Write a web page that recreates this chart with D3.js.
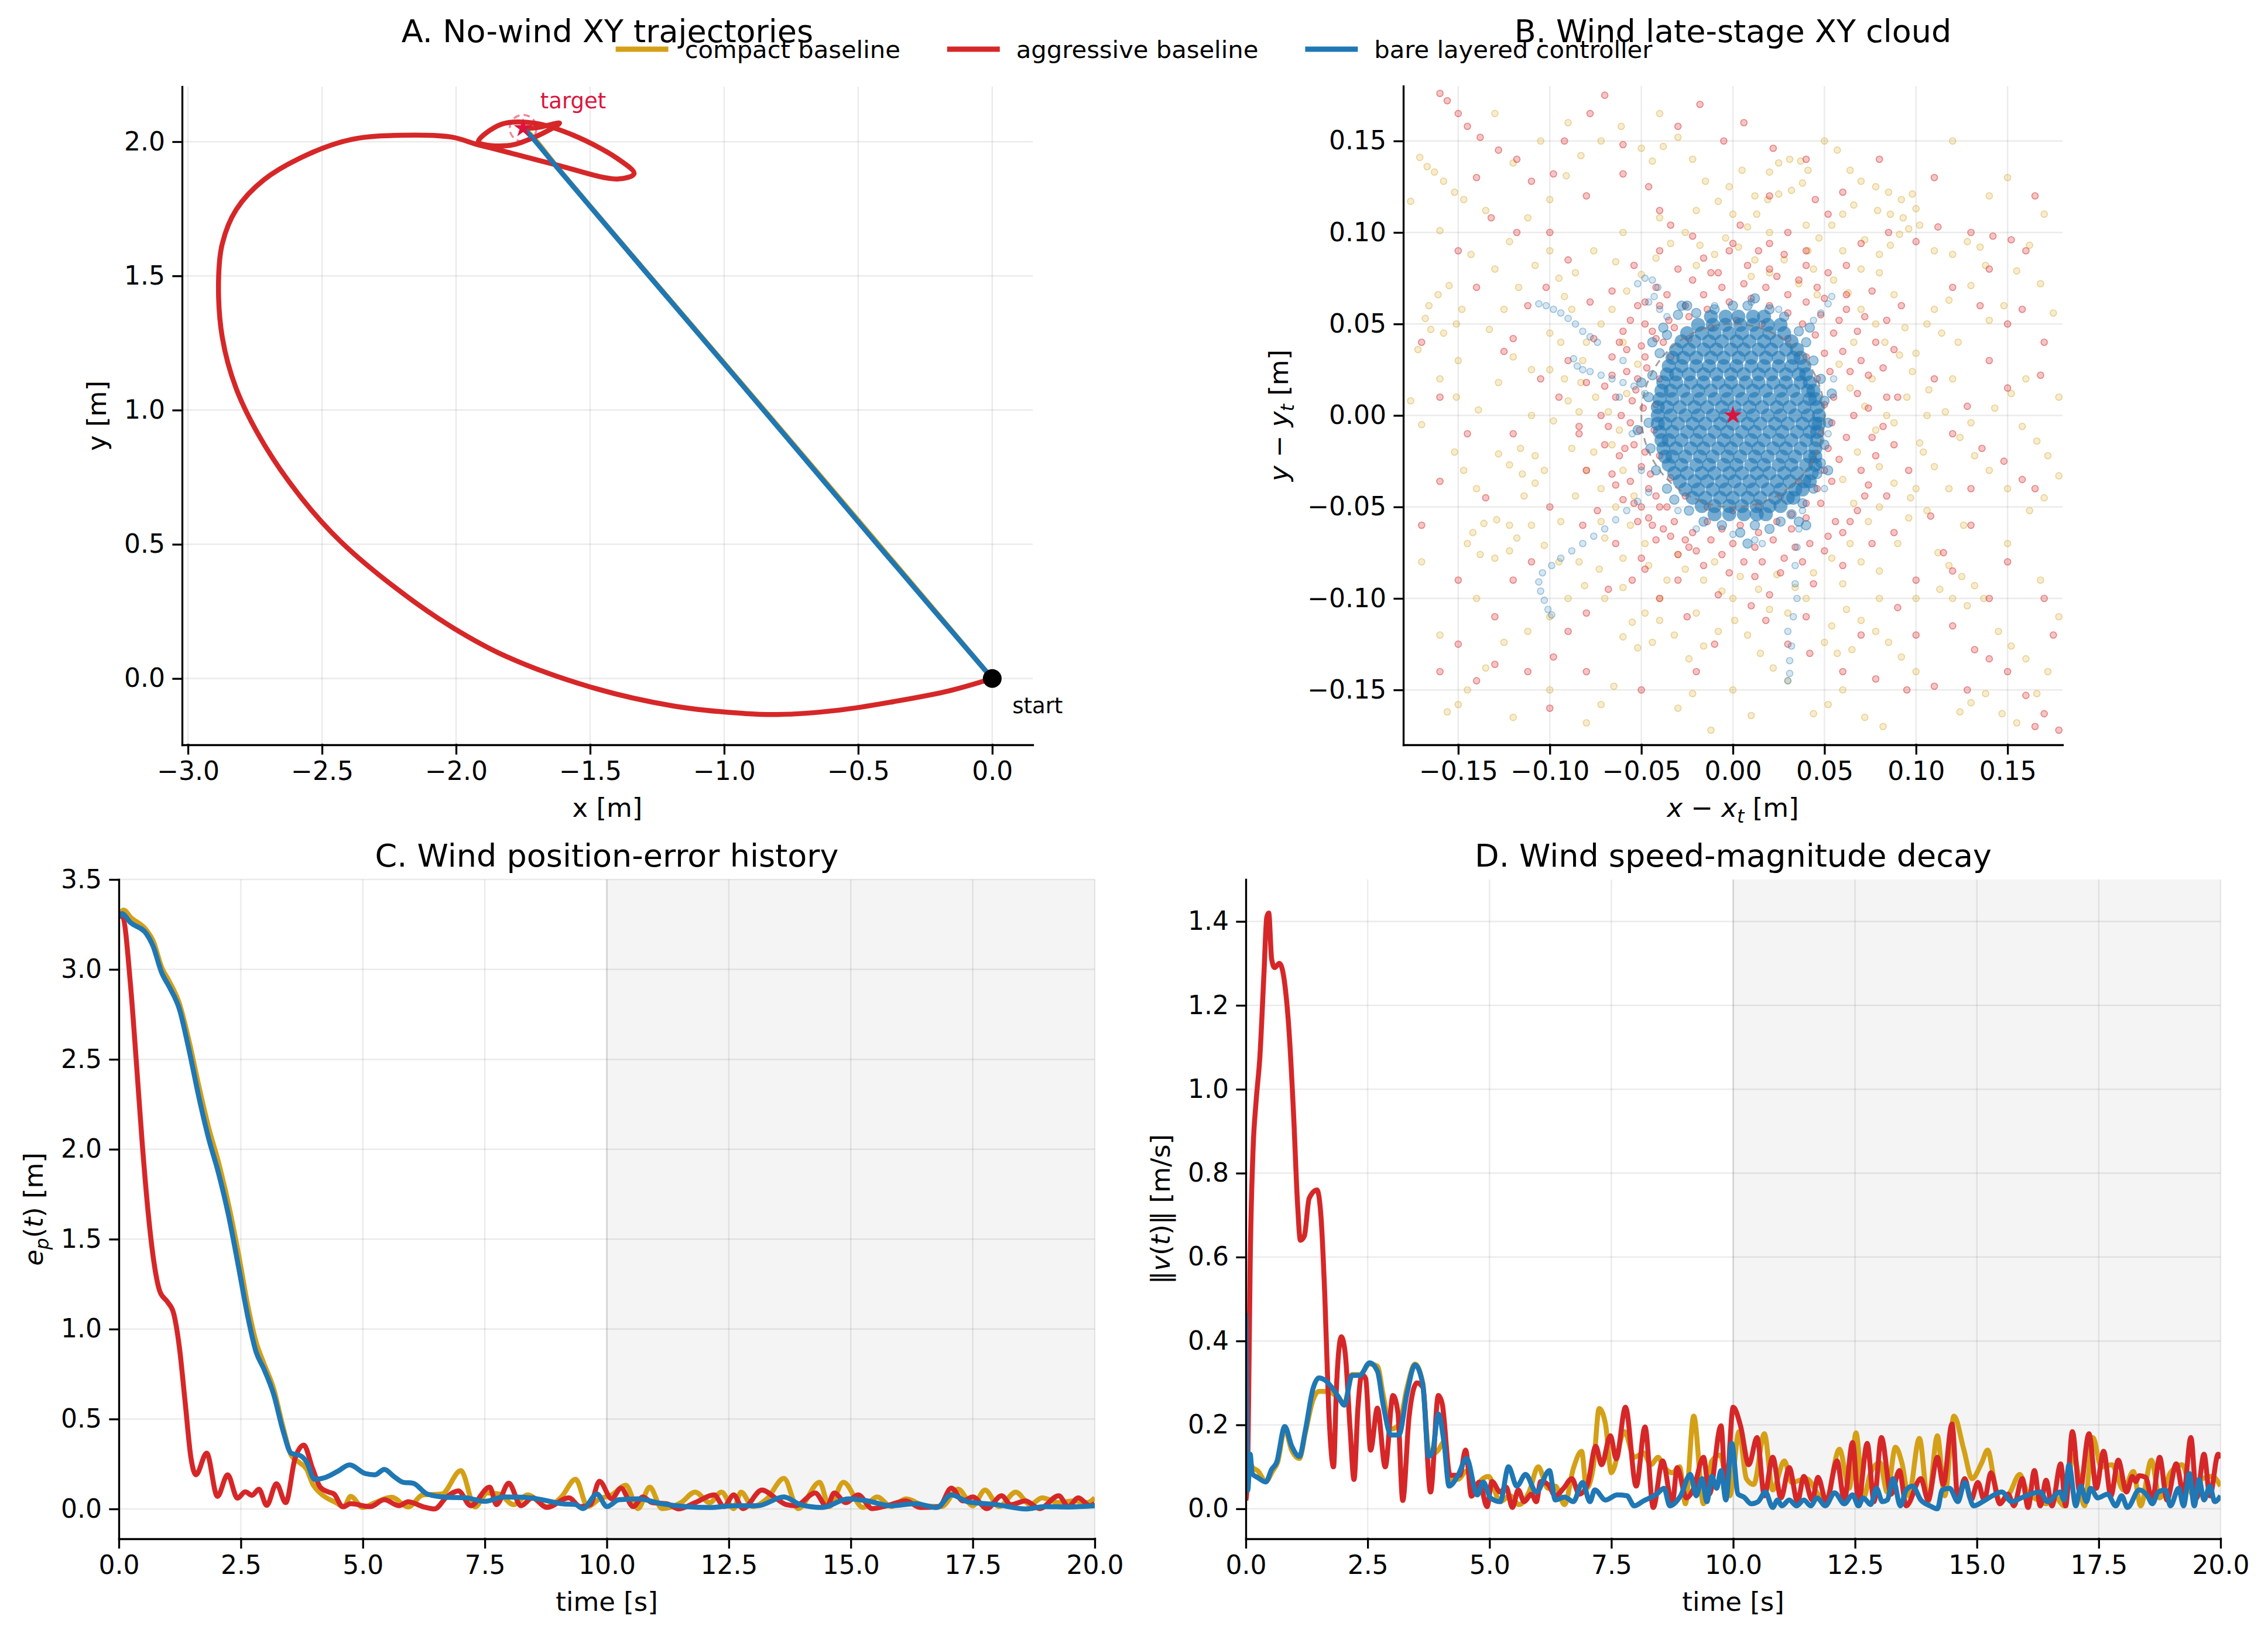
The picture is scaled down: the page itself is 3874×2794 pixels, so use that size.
<!DOCTYPE html>
<html>
<head>
<meta charset="utf-8">
<script src="https://cdn.jsdelivr.net/npm/d3@7"></script>
<style>
  html, body { margin: 0; padding: 0; background: #fff; }
</style>
</head>
<body>
<svg id="chart" width="3874" height="2794"></svg>
<script>
// ---------- data ----------
const seriesNames = ["compact baseline", "aggressive baseline", "bare layered controller"];
const target = [-1.75, 2.05];

// A: no-wind XY paths [x, y] in metres
const trajCompact = [[0, 0], [-0.414, 0.488], [-0.864, 1.016], [-1.304, 1.530], [-1.614, 1.895], [-1.714, 2.018], [-1.745, 2.048]];
const trajAggressive = [[0, 0], [-0.161, -0.046], [-0.367, -0.086], [-0.573, -0.118], [-0.800, -0.134], [-0.985, -0.126],
  [-1.192, -0.102], [-1.501, -0.031], [-1.810, 0.081], [-2.016, 0.192], [-2.222, 0.335], [-2.429, 0.509], [-2.573, 0.668],
  [-2.717, 0.874], [-2.820, 1.080], [-2.872, 1.271], [-2.886, 1.477], [-2.872, 1.620], [-2.820, 1.747], [-2.717, 1.858],
  [-2.552, 1.953], [-2.387, 2.009], [-2.202, 2.024], [-2.016, 2.017], [-1.923, 1.990], [-1.851, 1.972], [-1.624, 1.913],
  [-1.398, 1.861], [-1.336, 1.881], [-1.398, 1.937], [-1.562, 2.024], [-1.707, 2.069], [-1.831, 2.065], [-1.917, 1.999],
  [-1.810, 1.985], [-1.707, 2.017], [-1.614, 2.069], [-1.700, 2.052], [-1.750, 2.050]];
const trajLayered = [[0, 0], [-0.420, 0.490], [-0.870, 1.020], [-1.310, 1.535], [-1.620, 1.900], [-1.720, 2.020], [-1.750, 2.050]];

// B: late-stage offsets from target [dx, dy]
const cloudCompact = [
  [-0.171,0.141],[-0.167,0.136],[-0.163,0.133],[-0.158,0.128],[-0.152,0.122],[-0.147,0.118],[-0.160,0.101],[-0.143,0.088],
  [-0.176,0.117],[-0.155,0.071],[-0.161,0.066],[-0.166,0.060],[-0.168,0.053],[-0.165,0.047],[-0.158,0.045],[-0.151,0.050],
  [-0.148,0.058],[-0.172,0.036],[-0.160,0.020],[-0.151,0.010],[-0.139,0.003],[-0.128,0.018],[-0.120,0.032],[-0.133,0.047],
  [-0.125,0.058],[-0.117,0.070],[-0.108,0.082],[-0.122,0.095],[-0.112,0.108],[-0.100,0.118],[-0.091,0.131],[-0.083,0.142],
  [-0.072,0.150],[-0.061,0.158],[-0.050,0.146],[-0.044,0.139],[-0.038,0.147],[-0.030,0.152],[-0.022,0.140],[-0.015,0.128],
  [-0.008,0.117],[-0.002,0.125],[0.005,0.134],[0.012,0.120],[0.020,0.133],[0.025,0.138],[0.031,0.140],[0.037,0.139],
  [0.041,0.134],[0.038,0.127],[0.032,0.123],[0.025,0.121],[0.019,0.118],[0.013,0.110],[0.008,0.103],[0.050,0.150],
  [0.057,0.145],[0.064,0.134],[0.070,0.128],[0.078,0.125],[0.085,0.122],[0.092,0.118],[0.098,0.121],[0.100,0.113],
  [0.093,0.108],[0.086,0.110],[0.079,0.112],[0.066,0.115],[0.060,0.110],[0.054,0.104],[0.047,0.097],[0.041,0.090],
  [0.072,0.096],[0.080,0.088],[0.086,0.093],[0.091,0.099],[0.096,0.102],[0.102,0.104],[0.110,0.090],[0.120,0.088],
  [0.128,0.095],[0.135,0.092],[0.138,0.082],[0.130,0.071],[0.118,0.063],[0.110,0.058],[0.106,0.050],[0.114,0.045],
  [0.123,0.040],[0.140,0.052],[0.148,0.060],[0.155,0.079],[0.162,0.093],[0.168,0.072],[0.175,0.056],[0.160,0.020],
  [0.152,0.012],[0.143,0.004],[0.158,-0.006],[0.166,-0.014],[0.172,-0.022],[0.178,-0.033],[0.170,-0.045],[0.162,-0.052],
  [0.150,-0.040],[0.140,-0.030],[0.132,-0.022],[0.124,-0.012],[0.116,0.002],[0.107,0.014],[0.098,0.024],[0.091,0.033],
  [0.083,0.040],[0.095,0.010],[0.088,-0.004],[0.102,-0.015],[0.110,-0.028],[0.118,-0.040],[0.106,-0.052],[0.097,-0.045],
  [0.088,-0.037],[0.080,-0.028],[0.112,-0.075],[0.118,-0.082],[0.125,-0.088],[0.132,-0.093],[0.137,-0.100],[0.128,-0.104],
  [0.120,-0.100],[0.113,-0.095],[0.145,-0.118],[0.152,-0.126],[0.160,-0.133],[0.138,-0.152],[0.130,-0.157],[0.124,-0.162],
  [0.147,-0.163],[0.155,-0.168],[0.166,-0.152],[0.172,-0.140],[0.100,-0.140],[0.092,-0.132],[0.085,-0.124],[0.078,-0.118],
  [0.070,-0.112],[0.062,-0.106],[0.054,-0.115],[0.050,-0.124],[0.057,-0.130],[0.065,-0.128],[0.060,-0.150],[0.052,-0.158],
  [0.044,-0.163],[0.072,-0.165],[0.082,-0.170],[0.030,-0.145],[0.022,-0.138],[0.015,-0.130],[0.008,-0.120],[0.001,-0.112],
  [-0.008,-0.118],[-0.016,-0.126],[-0.024,-0.133],[-0.032,-0.120],[-0.040,-0.112],[-0.048,-0.108],[-0.055,-0.113],[-0.060,-0.121],
  [-0.052,-0.127],[-0.044,-0.124],[-0.030,-0.160],[-0.022,-0.152],[-0.065,-0.148],[-0.072,-0.158],[-0.080,-0.168],[-0.012,-0.172],
  [0.010,-0.164],[-0.142,-0.064],[-0.136,-0.059],[-0.129,-0.057],[-0.122,-0.060],[-0.118,-0.067],[-0.122,-0.074],[-0.130,-0.078],
  [-0.138,-0.076],[-0.145,-0.070],[-0.150,-0.158],[-0.156,-0.162],[-0.145,-0.150],[-0.135,-0.138],[-0.125,-0.124],[-0.112,-0.118],
  [-0.100,-0.110],[-0.090,-0.100],[-0.081,-0.093],[-0.073,-0.084],[-0.095,-0.080],[-0.103,-0.071],[-0.110,-0.060],[-0.128,-0.021],
  [-0.122,-0.027],[-0.115,-0.032],[-0.108,-0.037],[-0.103,-0.030],[-0.108,-0.022],[-0.116,-0.018],[-0.140,-0.040],[-0.147,-0.030],
  [-0.152,-0.020],[-0.170,-0.005],[-0.176,0.008],[-0.098,-0.003],[-0.090,0.008],[-0.083,0.018],[-0.075,0.010],[-0.068,0.002],
  [-0.062,-0.008],[-0.088,-0.018],[-0.080,-0.030],[-0.072,-0.040],[-0.064,-0.050],[-0.056,-0.060],[-0.048,-0.070],[-0.060,-0.078],
  [-0.070,-0.067],[-0.080,0.040],[-0.072,0.050],[-0.066,0.058],[-0.058,0.068],[-0.050,0.077],[-0.042,0.086],[-0.034,0.094],
  [-0.026,0.100],[-0.018,0.093],[-0.010,0.088],[-0.004,0.097],[0.003,0.092],[0.012,0.085],[0.020,0.078],[0.028,0.085],
  [0.036,0.072],[0.046,0.066],[0.055,0.074],[0.063,0.067],[0.070,0.058],[0.078,0.050],[0.066,0.040],[0.058,0.028],
  [0.064,0.015],[0.072,0.005],[0.078,-0.008],[0.068,-0.020],[0.060,-0.035],[0.066,-0.048],[0.074,-0.058],[0.064,-0.070],
  [0.054,-0.078],[0.044,-0.086],[0.034,-0.094],[0.024,-0.087],[0.014,-0.095],[0.004,-0.088],[-0.006,-0.096],[-0.016,-0.090],
  [-0.026,-0.084],[-0.036,-0.090],[-0.046,-0.082],[-0.054,-0.044],[-0.060,-0.030],[-0.066,-0.016],[-0.058,0.012],[-0.052,0.028],
  [-0.060,0.040],[-0.120,0.138],[-0.105,0.150],[-0.135,0.112],[-0.092,0.065],[-0.100,0.045],[-0.110,0.025]
];
const cloudCompactInner = [
  [-0.100,0.090],[-0.095,0.075],[-0.088,0.058],[-0.094,0.040],[-0.100,0.025],[-0.086,-0.044],[-0.094,-0.058],[-0.084,-0.080],
  [-0.070,-0.100],[-0.060,-0.094],[-0.040,-0.100],[-0.020,-0.108],[0.000,-0.100],[0.020,-0.106],[0.040,-0.100],[0.060,-0.092],
  [0.080,-0.085],[0.090,-0.070],[0.096,-0.056],[0.100,-0.040],[0.104,-0.020],[0.106,0.000],[0.100,0.034],[0.094,0.048],
  [0.088,0.066],[0.080,0.078],[0.060,0.090],[0.040,0.104],[0.020,0.100],[0.000,0.110],[-0.020,0.112],[-0.040,0.108],
  [-0.060,0.100],[-0.076,0.090],[-0.086,0.078],[-0.092,0.020],[-0.084,0.002],[-0.076,-0.020],[-0.072,-0.058],[-0.082,0.030],
  [0.070,0.080],[0.076,0.020],[0.084,0.000],[0.080,-0.050],[0.070,-0.080],[0.030,-0.108],[-0.010,-0.080],[-0.030,-0.076],
  [0.010,0.076],[-0.020,0.082],[0.044,0.080],[-0.064,0.084],[0.120,0.020],[0.130,-0.004],[0.126,-0.060],[0.100,-0.100],
  [0.080,-0.100],[-0.110,0.000],[-0.114,-0.044],[-0.130,0.080],[-0.150,0.030],[-0.140,-0.100],[-0.160,-0.120],[-0.170,-0.080],
  [0.150,0.130],[0.170,0.110],[0.178,0.010],[0.150,-0.070],[0.168,-0.090],[-0.090,0.160],[-0.130,0.165],[0.120,0.150],
  [0.140,0.120],[-0.040,0.165],[0.000,-0.150],[-0.100,-0.150],[-0.120,-0.165],[0.178,-0.110]
];
const cloudAggressive = [
  [-0.160,0.176],[-0.156,0.172],[-0.150,0.165],[-0.145,0.158],[-0.138,0.152],[-0.128,0.145],[-0.118,0.140],[-0.110,0.128],
  [-0.098,0.132],[-0.092,0.150],[-0.078,0.165],[-0.070,0.175],[-0.060,0.148],[-0.046,0.125],[-0.040,0.112],[-0.030,0.158],
  [-0.018,0.170],[-0.005,0.150],[0.006,0.160],[0.022,0.146],[0.045,0.118],[0.052,0.110],[0.060,0.122],[0.070,0.094],
  [0.085,0.100],[0.100,0.095],[0.112,0.103],[0.130,0.100],[0.142,0.098],[0.152,0.096],[0.160,0.090],[0.158,0.058],
  [0.150,0.050],[0.135,0.060],[0.168,0.022],[0.150,0.015],[0.140,0.030],[0.128,0.005],[0.120,-0.010],[0.136,-0.018],
  [0.148,-0.025],[0.158,-0.035],[0.165,-0.040],[0.130,-0.040],[0.108,-0.055],[0.115,-0.075],[0.100,-0.090],[0.090,-0.105],
  [0.120,-0.115],[0.132,-0.128],[0.140,-0.133],[0.150,-0.140],[0.160,-0.153],[0.170,-0.163],[0.178,-0.172],[0.165,-0.170],
  [0.128,-0.150],[0.110,-0.148],[0.095,-0.150],[0.078,-0.144],[0.060,-0.140],[0.042,-0.130],[0.030,-0.125],[0.018,-0.112],
  [-0.010,-0.125],[-0.025,-0.110],[-0.040,-0.100],[-0.055,-0.090],[-0.068,-0.095],[-0.080,-0.108],[-0.090,-0.118],[-0.098,-0.132],
  [-0.112,-0.140],[-0.130,-0.136],[-0.140,-0.145],[-0.160,-0.140],[-0.150,-0.125],[-0.120,-0.090],[-0.110,-0.080],[-0.135,-0.045],
  [-0.160,-0.036],[-0.145,-0.010],[-0.125,0.035],[-0.120,0.042],[-0.112,0.060],[-0.102,0.070],[-0.090,0.085],[-0.118,0.100],
  [-0.132,0.108],[-0.105,0.020],[-0.095,0.010],
  [0.040,0.062],[0.048,0.055],[0.055,0.045],[0.060,0.035],[0.064,0.024],[0.068,0.012],[0.066,0.000],[0.062,-0.012],
  [0.058,-0.024],[0.054,-0.036],[0.048,-0.048],[0.040,-0.056],[0.032,-0.062],[0.022,-0.068],[0.012,-0.072],[0.000,-0.070],
  [-0.012,-0.068],[-0.022,-0.064],[-0.032,-0.058],[-0.040,-0.050],[-0.046,-0.040],[-0.050,-0.028],[-0.054,-0.016],[-0.056,-0.004],
  [-0.055,0.008],[-0.052,0.020],[-0.048,0.032],[-0.042,0.042],[-0.035,0.052],[-0.026,0.060],[-0.016,0.066],[-0.006,0.070],
  [0.006,0.072],[0.018,0.070],[0.030,0.066],
  [0.052,0.078],[0.062,0.066],[0.072,0.054],[0.078,0.040],[0.082,0.026],[0.084,0.010],[0.082,-0.006],[0.078,-0.022],
  [0.074,-0.038],[0.068,-0.052],[0.060,-0.064],[0.050,-0.074],[0.038,-0.080],[0.026,-0.086],[0.012,-0.088],[-0.002,-0.086],
  [-0.016,-0.082],[-0.030,-0.076],[-0.042,-0.068],[-0.052,-0.058],[-0.060,-0.046],[-0.066,-0.032],[-0.070,-0.016],[-0.072,0.000],
  [-0.070,0.016],[-0.066,0.032],[-0.060,0.046],[-0.052,0.060],[-0.042,0.070],[-0.030,0.080],[-0.016,0.086],[-0.002,0.090],
  [0.014,0.090],[0.028,0.088],[0.040,0.082],
  [0.030,0.042],[0.040,0.032],[0.046,0.020],[0.050,0.006],[0.048,-0.010],[0.044,-0.024],[0.036,-0.036],[0.026,-0.044],
  [0.014,-0.050],[0.000,-0.052],[-0.014,-0.050],[-0.026,-0.044],[-0.034,-0.034],[-0.040,-0.022],[-0.043,-0.008],[-0.042,0.006],
  [-0.040,0.020],[-0.034,0.032],[-0.024,0.042],[-0.012,0.048],[0.002,0.052],[0.016,0.050],
  [0.058,0.052],[0.070,0.030],[0.074,0.004],[0.070,-0.030],[0.056,-0.058],[0.034,-0.072],[0.006,-0.080],[-0.020,-0.074],
  [-0.046,-0.056],[-0.062,-0.022],[-0.064,0.010],[-0.058,0.036],[-0.040,0.060],[-0.012,0.078],[0.020,0.080],[0.046,0.070],
  [0.092,0.060],[0.096,-0.030],[0.088,-0.064],[-0.082,-0.060],[-0.090,0.030],[-0.084,-0.010],[-0.078,0.062],[0.004,0.104],
  [0.030,0.100],[-0.034,0.104],[0.010,-0.104],[-0.050,-0.078]
];
const cloudAggressiveHalo = [
  [-0.048,0.050],[-0.044,0.046],[-0.050,0.038],[-0.047,0.026],[-0.053,0.014],[-0.049,0.004],[-0.051,-0.008],[-0.048,-0.020],
  [-0.045,-0.032],[-0.042,-0.044],[-0.036,-0.050],[-0.058,0.024],[-0.061,0.000],[-0.059,-0.018],[-0.056,-0.036],[-0.050,-0.050],
  [-0.044,-0.060],[-0.034,-0.066],[-0.024,-0.072],[-0.014,-0.058],[-0.006,-0.062],[0.004,-0.060],[0.014,-0.064],[0.024,-0.058],
  [0.032,-0.054],[0.040,-0.048],[0.046,-0.040],[0.050,-0.030],[0.052,-0.018],[0.054,-0.004],[0.055,0.010],[0.053,0.024],
  [0.050,0.034],[0.045,0.044],[0.038,0.050],[0.030,0.056],[0.020,0.060],[0.010,0.064],[-0.002,0.062],[-0.014,0.058],
  [-0.024,0.054],[-0.032,0.048],[-0.038,0.040],
  [0.062,0.058],[0.068,0.046],[0.074,0.022],[0.076,-0.012],[0.072,-0.044],[0.064,-0.058],[0.052,-0.066],[0.042,-0.070],
  [0.028,-0.078],[0.016,-0.080],[-0.006,-0.076],[-0.026,-0.068],[-0.038,-0.062],[-0.054,-0.048],[-0.064,-0.038],[-0.068,-0.006],
  [-0.066,0.022],[-0.062,0.040],[-0.056,0.052],[-0.048,0.062],[-0.036,0.066],[-0.022,0.074],[-0.008,0.078],[0.008,0.082],
  [0.024,0.076],[0.036,0.074],[0.050,0.064],
  [0.088,0.036],[0.090,0.010],[0.088,-0.016],[0.084,-0.044],[0.076,-0.070],[0.060,-0.082],[0.044,-0.092],[0.020,-0.098],
  [-0.008,-0.098],[-0.030,-0.090],[-0.048,-0.084],[-0.064,-0.070],[-0.074,-0.052],[-0.080,-0.030],[-0.084,-0.006],[-0.080,0.018],
  [-0.076,0.042],[-0.066,0.068],[-0.054,0.082],[-0.040,0.090],[-0.022,0.098],[0.000,0.094],[0.020,0.094],[0.040,0.090],
  [0.062,0.082],[0.076,0.068],[0.084,0.052],
  [-0.150,0.090],[-0.140,0.070],[-0.100,0.100],[-0.080,0.120],[-0.060,0.132],[0.020,0.120],[0.040,0.140],[0.080,0.140],
  [0.110,0.130],[0.120,0.070],[0.140,0.080],[0.170,0.040],[0.130,-0.060],[0.150,-0.080],[0.170,-0.100],[0.140,-0.100],
  [0.100,-0.120],[0.070,-0.120],[0.040,-0.110],[-0.020,-0.140],[-0.050,-0.150],[-0.080,-0.140],[-0.100,-0.160],[-0.130,-0.110],
  [-0.150,-0.090],[-0.170,-0.060],[-0.160,0.010],[-0.170,0.040],[-0.140,0.130],[0.165,0.120],[0.175,-0.120],[-0.100,-0.050],
  [-0.120,-0.010],[0.110,0.020],[0.120,-0.085]
];
// dense core of the layered controller, one row of x offsets per y offset
const cloudLayeredCoreRows = [
  [0.054, [-0.012, -0.004, 0.003, 0.011, 0.017]],
  [0.0495, [-0.019, -0.011, -0.004, 0.004, 0.011, 0.019, 0.026]],
  [0.045, [-0.025, -0.017, -0.010, -0.002, 0.005, 0.013, 0.020, 0.028]],
  [0.0405, [-0.028, -0.021, -0.013, -0.006, 0.002, 0.009, 0.017, 0.024, 0.032]],
  [0.036, [-0.031, -0.024, -0.016, -0.009, -0.001, 0.006, 0.014, 0.021, 0.029, 0.035]],
  [0.0315, [-0.033, -0.027, -0.020, -0.012, -0.005, 0.003, 0.010, 0.018, 0.025, 0.033, 0.037]],
  [0.027, [-0.035, -0.028, -0.020, -0.013, -0.005, 0.002, 0.010, 0.017, 0.025, 0.032, 0.039]],
  [0.0225, [-0.036, -0.031, -0.024, -0.016, -0.009, -0.001, 0.006, 0.014, 0.021, 0.029, 0.036, 0.040]],
  [0.018, [-0.038, -0.031, -0.023, -0.016, -0.008, -0.001, 0.007, 0.014, 0.022, 0.029, 0.037, 0.042]],
  [0.0135, [-0.039, -0.034, -0.027, -0.019, -0.012, -0.004, 0.003, 0.011, 0.018, 0.026, 0.033, 0.041, 0.044]],
  [0.009, [-0.040, -0.033, -0.025, -0.018, -0.010, -0.003, 0.005, 0.012, 0.020, 0.027, 0.035, 0.042, 0.045]],
  [0.0045, [-0.041, -0.036, -0.029, -0.021, -0.014, -0.006, 0.001, 0.009, 0.016, 0.024, 0.031, 0.039, 0.046]],
  [0.000, [-0.041, -0.034, -0.026, -0.019, -0.011, -0.004, 0.004, 0.011, 0.019, 0.026, 0.034, 0.041, 0.047]],
  [-0.0045, [-0.041, -0.037, -0.030, -0.022, -0.015, -0.007, 0.000, 0.008, 0.015, 0.023, 0.030, 0.038, 0.045, 0.047]],
  [-0.009, [-0.040, -0.033, -0.025, -0.018, -0.010, -0.003, 0.005, 0.012, 0.020, 0.027, 0.035, 0.042, 0.046]],
  [-0.0135, [-0.039, -0.035, -0.028, -0.020, -0.013, -0.005, 0.002, 0.010, 0.017, 0.025, 0.032, 0.040, 0.046]],
  [-0.018, [-0.038, -0.031, -0.023, -0.016, -0.008, -0.001, 0.007, 0.014, 0.022, 0.029, 0.037, 0.045]],
  [-0.0225, [-0.037, -0.033, -0.026, -0.018, -0.011, -0.003, 0.004, 0.012, 0.019, 0.027, 0.034, 0.042, 0.045]],
  [-0.027, [-0.035, -0.028, -0.020, -0.013, -0.005, 0.002, 0.010, 0.017, 0.025, 0.032, 0.040, 0.045]],
  [-0.0315, [-0.032, -0.025, -0.017, -0.010, -0.002, 0.005, 0.013, 0.020, 0.028, 0.035, 0.043]],
  [-0.036, [-0.029, -0.021, -0.014, -0.006, 0.001, 0.009, 0.016, 0.024, 0.031, 0.039, 0.042]],
  [-0.0405, [-0.026, -0.019, -0.011, -0.004, 0.004, 0.011, 0.019, 0.026, 0.034, 0.038]],
  [-0.045, [-0.022, -0.015, -0.007, 0.000, 0.008, 0.015, 0.023, 0.030, 0.033]],
  [-0.0495, [-0.017, -0.010, -0.002, 0.005, 0.013, 0.020, 0.026]],
  [-0.054, [-0.010, -0.002, 0.006, 0.013, 0.018]]
];
const cloudLayeredFringe = [
  [-0.030,0.055],[-0.025,0.060],[-0.020,0.056],[0.008,0.060],[0.012,0.064],[0.020,0.058],[0.028,0.054],[0.036,0.046],
  [0.040,0.040],[0.044,0.030],[0.048,0.020],[0.050,0.008],[0.052,-0.004],[0.050,-0.016],[0.048,-0.026],[0.046,-0.032],
  [0.044,-0.040],[0.038,-0.048],[0.032,-0.054],[0.026,-0.058],[0.012,-0.060],[0.004,-0.064],[-0.006,-0.060],[-0.016,-0.058],
  [-0.024,-0.052],[-0.032,-0.046],[-0.036,-0.040],[-0.042,-0.030],[-0.045,-0.018],[-0.046,-0.004],[-0.046,0.010],[-0.044,0.022],
  [-0.040,0.034],[-0.036,0.044],[-0.044,0.040],[-0.050,0.018],[-0.052,-0.008],[0.054,0.012],[0.052,-0.030],[0.000,0.060],
  [-0.010,0.058],[0.036,-0.058],[0.040,-0.060],[0.008,-0.070],[-0.028,0.060],[-0.038,0.048],[0.042,0.048],[0.020,-0.062]
];
const cloudLayeredTrail = [
  [-0.106,0.061],[-0.102,0.060],[-0.098,0.058],[-0.094,0.056],[-0.090,0.053],[-0.086,0.050],[-0.082,0.046],[-0.078,0.043],
  [-0.074,0.040],[-0.052,0.072],[-0.048,0.075],[-0.044,0.074],[-0.041,0.070],[-0.043,0.065],[-0.046,0.062],[-0.040,0.058],
  [-0.036,0.054],[-0.087,0.031],[-0.085,0.027],[-0.082,0.025],[-0.078,0.024],[-0.072,0.022],[-0.066,0.020],[-0.060,0.018],
  [-0.054,0.016],[-0.048,0.012],[-0.046,-0.042],[-0.052,-0.047],[-0.058,-0.052],[-0.064,-0.057],[-0.070,-0.062],[-0.076,-0.066],
  [-0.082,-0.070],[-0.088,-0.074],[-0.094,-0.078],[-0.099,-0.082],[-0.104,-0.086],[-0.106,-0.091],[-0.105,-0.096],[-0.103,-0.101],
  [-0.101,-0.106],[-0.099,-0.109],[0.036,-0.062],[0.035,-0.072],[0.034,-0.082],[0.034,-0.092],[0.035,-0.100],[0.033,-0.110],
  [0.030,-0.118],[0.032,-0.126],[0.031,-0.134],[0.031,-0.141],[0.030,-0.145],[0.044,0.052],[0.048,0.056],[0.052,0.061],
  [0.054,0.065],[-0.060,0.030],[-0.062,0.010],[-0.055,-0.010],[-0.050,-0.030],[0.055,0.020],[0.052,-0.010],[0.050,-0.040],
  [0.010,0.062],[-0.010,0.060],[0.000,-0.065],[0.012,-0.068],[-0.020,-0.062],[0.025,0.058],[-0.030,-0.052],[0.038,-0.052],
  [0.016,-0.070],[0.046,-0.028],[0.048,-0.030]
];

// C: wind position error [t s, e m]
const errCompact = [[0.00,3.30],[0.10,3.33],[0.24,3.29],[0.56,3.22],[0.70,3.16],[0.88,3.01],[1.04,2.93],[1.24,2.81],[1.44,2.60],
  [1.64,2.35],[1.84,2.12],[2.04,1.93],[2.25,1.69],[2.45,1.42],[2.65,1.12],[2.81,0.93],[2.97,0.81],[3.17,0.67],[3.37,0.45],
  [3.53,0.30],[3.69,0.26],[3.85,0.22],[3.97,0.14],[4.15,0.083],[4.45,0.035],[4.61,0.012],[4.75,0.07],[5.0,0.008],[5.25,0.035],
  [5.59,0.065],[5.93,0.011],[6.23,0.078],[6.62,0.083],[7.01,0.213],[7.3,0.011],[7.55,0.089],[7.79,0.083],[8.09,0.024],[8.38,0.078],
  [8.77,0.013],[9.07,0.067],[9.36,0.165],[9.61,0.013],[9.85,0.056],[10.1,0.078],[10.39,0.132],[10.64,0.002],[10.88,0.121],
  [11.13,0.002],[11.52,0.035],[11.81,0.094],[12.11,0.035],[12.35,0.094],[12.6,0.002],[12.75,0.094],[12.99,0.013],[13.28,0.056],
  [13.63,0.17],[13.92,0.002],[14.36,0.148],[14.56,0.013],[14.85,0.148],[15.25,0.008],[15.54,0.067],[15.83,0.013],[16.13,0.056],
  [16.52,0.018],[16.86,0.013],[17.2,0.11],[17.5,0.018],[17.75,0.105],[18.04,0.013],[18.38,0.094],[18.68,0.024],[18.92,0.062],
  [19.26,0.035],[19.56,0.045],[19.85,0.035],[20.0,0.062]];
const errAggressive = [[0.00,3.30],[0.08,3.29],[0.24,2.91],[0.36,2.48],[0.48,2.03],[0.60,1.65],[0.72,1.37],[0.84,1.21],[1.00,1.15],
  [1.12,1.09],[1.24,0.90],[1.36,0.59],[1.48,0.28],[1.58,0.19],[1.80,0.31],[2.02,0.07],[2.23,0.19],[2.43,0.06],[2.59,0.095],
  [2.73,0.076],[2.87,0.11],[3.03,0.02],[3.23,0.14],[3.42,0.035],[3.61,0.28],[3.79,0.355],[3.97,0.225],[4.13,0.12],[4.29,0.095],
  [4.41,0.083],[4.59,0.012],[4.75,0.029],[5.15,0.013],[5.44,0.051],[5.74,0.018],[5.93,0.04],[6.23,0.013],[6.47,0.0],[6.72,0.067],
  [6.96,0.1],[7.21,0.018],[7.6,0.121],[7.74,0.024],[7.99,0.143],[8.24,0.018],[8.48,0.062],[8.77,0.008],[9.22,0.062],[9.46,0.013],
  [9.66,0.024],[9.85,0.154],[10.1,0.056],[10.29,0.116],[10.54,0.013],[10.74,0.067],[10.93,0.035],[11.23,0.029],[11.47,0.0],
  [11.81,0.035],[12.2,0.078],[12.4,0.013],[12.6,0.078],[12.79,0.002],[13.18,0.105],[13.48,0.056],[13.68,0.024],[13.87,0.018],
  [14.27,0.089],[14.51,0.013],[14.66,0.089],[14.9,0.035],[15.15,0.078],[15.44,0.002],[15.74,0.018],[16.13,0.045],[16.42,0.008],
  [16.81,0.013],[17.06,0.116],[17.3,0.045],[17.5,0.067],[17.79,0.002],[18.09,0.073],[18.28,0.024],[18.58,0.045],[18.87,0.002],
  [19.26,0.073],[19.46,0.013],[19.66,0.062],[19.9,0.018],[20.0,0.03]];
const errLayered = [[0.00,3.29],[0.06,3.31],[0.24,3.26],[0.56,3.20],[0.70,3.13],[0.88,2.98],[1.04,2.90],[1.24,2.78],[1.44,2.55],
  [1.64,2.29],[1.84,2.06],[2.04,1.87],[2.25,1.63],[2.45,1.35],[2.65,1.06],[2.81,0.875],[2.97,0.78],[3.17,0.64],[3.37,0.43],
  [3.53,0.31],[3.73,0.295],[3.85,0.26],[4.01,0.165],[4.25,0.177],[4.49,0.21],[4.73,0.245],[5.05,0.197],[5.25,0.19],[5.44,0.22],
  [5.64,0.18],[5.83,0.148],[6.03,0.143],[6.32,0.083],[6.72,0.065],[7.11,0.062],[7.5,0.042],[7.89,0.067],[8.28,0.065],[8.68,0.051],
  [9.07,0.029],[9.36,0.024],[9.51,0.002],[9.8,0.083],[10.0,0.013],[10.25,0.051],[10.64,0.056],[11.13,0.029],[11.62,0.013],
  [12.11,0.008],[12.6,0.018],[13.09,0.018],[13.63,0.067],[13.97,0.024],[14.41,0.008],[14.95,0.056],[15.34,0.045],[15.83,0.018],
  [16.32,0.029],[16.76,0.008],[17.06,0.078],[17.4,0.04],[17.99,0.024],[18.58,0.0],[18.97,0.013],[19.46,0.011],[20.0,0.018]];

// D: wind speed magnitude [t s, |v| m/s]
const speedCompact = [[0.00,0.40],[0.04,0.10],[0.09,0.11],[0.13,0.10],[0.25,0.09],[0.41,0.065],[0.55,0.09],[0.65,0.11],[0.80,0.19],
  [0.94,0.14],[1.10,0.12],[1.22,0.18],[1.38,0.26],[1.50,0.28],[1.62,0.28],[1.78,0.275],[1.90,0.265],[2.02,0.25],[2.18,0.32],
  [2.34,0.32],[2.54,0.345],[2.70,0.34],[2.82,0.27],[2.98,0.19],[3.14,0.20],[3.31,0.29],[3.47,0.345],[3.63,0.30],[3.75,0.14],
  [3.83,0.13],[3.95,0.14],[4.07,0.16],[4.17,0.07],[4.35,0.07],[4.53,0.09],[4.75,0.04],[4.83,0.068],[4.98,0.077],[5.22,0.017],
  [5.42,0.031],[5.61,0.01],[5.81,0.04],[6.0,0.1],[6.2,0.049],[6.35,0.054],[6.54,0.01],[6.72,0.096],[6.89,0.137],[6.99,0.049],
  [7.13,0.1],[7.25,0.239],[7.38,0.202],[7.5,0.086],[7.77,0.184],[7.97,0.123],[8.16,0.133],[8.31,0.105],[8.46,0.123],[8.55,0.105],
  [8.75,0.086],[8.9,0.1],[9.02,0.012],[9.19,0.221],[9.39,0.012],[9.56,0.114],[9.73,0.128],[9.93,0.031],[10.12,0.184],[10.27,0.072],
  [10.42,0.058],[10.64,0.179],[10.81,0.045],[11.05,0.114],[11.2,0.063],[11.5,0.072],[11.74,0.035],[11.89,0.012],[12.18,0.142],
  [12.38,0.049],[12.52,0.181],[12.67,0.026],[12.82,0.086],[13.01,0.11],[13.16,0.04],[13.33,0.147],[13.46,0.11],[13.6,0.031],
  [13.82,0.168],[14.0,0.017],[14.19,0.174],[14.34,0.031],[14.53,0.221],[14.73,0.142],[14.9,0.072],[15.1,0.11],[15.22,0.14],
  [15.37,0.058],[15.47,0.017],[15.66,0.035],[15.88,0.082],[16.03,0.04],[16.25,0.021],[16.42,0.012],[16.59,0.031],[16.79,0.007],
  [16.98,0.128],[17.21,0.007],[17.38,0.17],[17.55,0.1],[17.77,0.105],[18.01,0.045],[18.21,0.089],[18.36,0.007],[18.58,0.116],
  [18.75,0.026],[18.97,0.086],[19.21,0.105],[19.44,0.031],[19.63,0.072],[19.83,0.077],[20.0,0.054]];
const speedAggressive = [[0.00,0.02],[0.03,0.06],[0.05,0.19],[0.09,0.59],[0.15,0.86],[0.21,0.97],[0.29,1.08],[0.37,1.27],[0.43,1.41],
  [0.47,1.42],[0.53,1.31],[0.59,1.29],[0.69,1.30],[0.80,1.25],[0.88,1.15],[0.98,0.94],[1.06,0.73],[1.12,0.64],[1.20,0.65],
  [1.30,0.74],[1.46,0.76],[1.54,0.70],[1.62,0.51],[1.70,0.24],[1.80,0.10],[1.86,0.29],[1.96,0.41],[2.04,0.37],[2.14,0.19],
  [2.22,0.07],[2.30,0.24],[2.38,0.32],[2.46,0.31],[2.56,0.14],[2.70,0.24],[2.86,0.10],[3.02,0.27],[3.12,0.23],[3.22,0.02],
  [3.35,0.22],[3.51,0.30],[3.63,0.29],[3.79,0.04],[3.95,0.27],[4.03,0.25],[4.19,0.08],[4.39,0.08],[4.51,0.14],[4.63,0.03],
  [4.79,0.064],[4.95,0.005],[5.05,0.065],[5.22,0.04],[5.34,0.052],[5.47,0.003],[5.59,0.045],[5.71,0.017],[5.86,0.035],[5.96,0.017],
  [6.05,0.065],[6.2,0.058],[6.35,0.031],[6.52,0.049],[6.69,0.072],[6.84,0.035],[7.01,0.058],[7.18,0.149],[7.3,0.105],[7.48,0.174],
  [7.6,0.119],[7.79,0.242],[8.01,0.054],[8.19,0.195],[8.36,0.003],[8.55,0.114],[8.75,0.012],[8.85,0.098],[9.04,0.026],[9.19,0.049],
  [9.39,0.123],[9.51,0.035],[9.75,0.198],[9.85,0.035],[10.0,0.242],[10.15,0.198],[10.32,0.105],[10.49,0.17],[10.64,0.031],
  [10.81,0.123],[10.98,0.026],[11.15,0.098],[11.32,0.017],[11.45,0.077],[11.62,0.021],[11.74,0.075],[11.91,0.017],[12.13,0.114],
  [12.28,0.021],[12.45,0.158],[12.57,0.017],[12.75,0.156],[12.89,0.017],[13.04,0.17],[13.24,0.035],[13.41,0.091],[13.55,0.007],
  [13.85,0.072],[14.0,0.021],[14.19,0.123],[14.31,0.058],[14.49,0.202],[14.61,0.021],[14.75,0.072],[14.88,0.021],[15.02,0.063],
  [15.15,0.021],[15.29,0.086],[15.47,0.012],[15.64,0.035],[15.76,0.007],[15.93,0.072],[16.05,0.003],[16.18,0.091],[16.3,0.007],
  [16.42,0.068],[16.54,0.007],[16.72,0.107],[16.82,0.007],[16.96,0.184],[17.11,0.04],[17.3,0.179],[17.45,0.049],[17.6,0.137],
  [17.75,0.031],[17.9,0.116],[18.07,0.04],[18.19,0.077],[18.26,0.065],[18.33,0.079],[18.46,0.075],[18.6,0.021],[18.75,0.123],
  [18.9,0.021],[19.09,0.107],[19.24,0.035],[19.39,0.17],[19.51,0.026],[19.66,0.13],[19.78,0.031],[19.95,0.13],[20.0,0.12]];
const speedLayered = [[0.00,0.465],[0.02,0.20],[0.04,0.044],[0.09,0.13],[0.13,0.084],[0.25,0.074],[0.41,0.064],[0.53,0.094],
  [0.63,0.11],[0.80,0.196],[0.94,0.15],[1.10,0.125],[1.22,0.186],[1.38,0.287],[1.50,0.312],[1.62,0.307],[1.78,0.287],[1.90,0.267],
  [2.02,0.247],[2.18,0.318],[2.34,0.318],[2.54,0.348],[2.70,0.328],[2.82,0.247],[2.98,0.176],[3.14,0.176],[3.31,0.277],[3.47,0.343],
  [3.63,0.297],[3.75,0.125],[3.83,0.135],[3.95,0.226],[4.07,0.155],[4.17,0.054],[4.35,0.079],[4.53,0.12],[4.75,0.033],[4.87,0.064],
  [5.02,0.026],[5.22,0.017],[5.39,0.1],[5.56,0.054],[5.74,0.082],[5.96,0.04],[6.23,0.091],[6.35,0.021],[6.54,0.028],[6.72,0.017],
  [6.91,0.063],[7.06,0.017],[7.16,0.045],[7.38,0.021],[7.62,0.033],[7.82,0.031],[7.97,0.007],[8.16,0.019],[8.43,0.035],[8.58,0.049],
  [8.7,0.007],[8.92,0.031],[9.12,0.082],[9.24,0.031],[9.36,0.072],[9.46,0.017],[9.56,0.077],[9.66,0.049],[9.75,0.091],[9.85,0.021],
  [9.97,0.156],[10.1,0.035],[10.22,0.028],[10.37,0.012],[10.51,0.017],[10.66,0.04],[10.81,0.003],[10.91,0.021],[11.0,0.007],
  [11.15,0.021],[11.3,0.007],[11.45,0.021],[11.59,0.007],[11.72,0.026],[11.89,0.007],[12.08,0.038],[12.28,0.012],[12.45,0.033],
  [12.57,0.007],[12.67,0.026],[12.82,0.01],[12.94,0.049],[13.06,0.017],[13.16,0.021],[13.28,0.072],[13.43,0.007],[13.55,0.045],
  [13.68,0.054],[13.85,0.021],[14.04,0.007],[14.19,0.0],[14.29,0.045],[14.44,0.049],[14.61,0.017],[14.75,0.063],[14.93,0.007],
  [15.12,0.017],[15.32,0.031],[15.51,0.04],[15.71,0.017],[15.91,0.026],[16.1,0.035],[16.3,0.04],[16.45,0.017],[16.7,0.04],
  [16.79,0.021],[16.89,0.105],[17.03,0.007],[17.13,0.054],[17.25,0.017],[17.33,0.049],[17.48,0.026],[17.68,0.035],[17.85,0.007],
  [17.97,0.031],[18.09,0.003],[18.33,0.045],[18.5,0.031],[18.6,0.012],[18.72,0.04],[18.87,0.045],[18.97,0.007],[19.14,0.049],
  [19.24,0.007],[19.36,0.084],[19.46,0.007],[19.56,0.07],[19.66,0.021],[19.78,0.054],[19.88,0.017],[20.0,0.031]];

const lateStageStart = 10;
const timeTicks = [0, 2.5, 5, 7.5, 10, 12.5, 15, 17.5, 20];

// ---------- style ----------
const FONT = "DejaVu Sans, sans-serif";
const colors = ["#d4a017", "#d62728", "#1f77b4"];
const crimson = "#dc143c";
const svg = d3.select("#chart");
svg.append("rect").attr("width", 3874).attr("height", 2794).attr("fill", "#fff");

function makePanel(id, box, xDomain, yDomain) {
    const x = d3.scaleLinear().domain(xDomain).range([box.l, box.r]);
    const y = d3.scaleLinear().domain(yDomain).range([box.b, box.t]);
    svg.append("clipPath").attr("id", "clip-" + id).append("rect")
        .attr("x", box.l).attr("y", box.t)
        .attr("width", box.r - box.l).attr("height", box.b - box.t);
    return {g: svg.append("g"), x: x, y: y, box: box, clip: "url(#clip-" + id + ")"};
}

function drawGrid(p, xTicks, yTicks) {
    const grid = p.g.append("g")
        .attr("stroke", "#000").attr("stroke-opacity", 0.08).attr("stroke-width", 2.5);
    grid.selectAll("line.gx").data(xTicks).enter().append("line").attr("class", "gx")
        .attr("x1", d => p.x(d)).attr("x2", d => p.x(d))
        .attr("y1", p.box.t).attr("y2", p.box.b);
    grid.selectAll("line.gy").data(yTicks).enter().append("line").attr("class", "gy")
        .attr("x1", p.box.l).attr("x2", p.box.r)
        .attr("y1", d => p.y(d)).attr("y2", d => p.y(d));
}

function drawAxes(p, xTicks, yTicks, xFmt, yFmt) {
    const xa = p.g.append("g").attr("transform", "translate(0," + p.box.b + ")")
        .call(d3.axisBottom(p.x).tickValues(xTicks).tickFormat(xFmt)
            .tickSize(15).tickSizeOuter(0).tickPadding(14));
    const ya = p.g.append("g").attr("transform", "translate(" + p.box.l + ",0)")
        .call(d3.axisLeft(p.y).tickValues(yTicks).tickFormat(yFmt)
            .tickSize(15).tickSizeOuter(0).tickPadding(14));
    [xa, ya].forEach(function (a) {
        a.attr("font-family", FONT).attr("font-size", 44);
        a.selectAll("path, line").attr("stroke", "#000").attr("stroke-width", 3.3)
            .attr("stroke-linecap", "square");
        a.selectAll("text").attr("fill", "#000");
    });
}

// parts: [text, italic, subscript]
function richText(sel, parts, size) {
    let lowered = false;
    parts.forEach(function (part) {
        const t = sel.append("tspan").text(part[0]);
        if (part[1]) t.attr("font-style", "italic");
        if (part[2]) {
            t.attr("font-size", size * 0.7).attr("dy", size * 0.22);
            lowered = true;
        } else if (lowered) {
            t.attr("dy", -size * 0.22);
            lowered = false;
        }
    });
}

function xLabel(p, parts) {
    const t = svg.append("text").attr("font-family", FONT).attr("font-size", 45)
        .attr("text-anchor", "middle")
        .attr("x", (p.box.l + p.box.r) / 2).attr("y", p.box.b + 123);
    richText(t, parts, 45);
}

function yLabel(p, parts, offset) {
    const t = svg.append("text").attr("font-family", FONT).attr("font-size", 45)
        .attr("text-anchor", "middle")
        .attr("transform", "translate(" + (p.box.l - offset) + "," + (p.box.t + p.box.b) / 2 + ") rotate(-90)");
    richText(t, parts, 45);
}

function title(p, text, baseline) {
    svg.append("text").attr("font-family", FONT).attr("font-size", 54)
        .attr("text-anchor", "middle")
        .attr("x", (p.box.l + p.box.r) / 2).attr("y", baseline).text(text);
}

const fmt1 = d3.format(".1f");
const fmt2 = d3.format(".2f");

// ---------- A. No-wind XY trajectories ----------
const pA = makePanel("a", {l: 311, r: 1764, t: 148, b: 1272}, [-3.022, 0.151], [-0.247, 2.205]);
drawGrid(pA, [-3, -2.5, -2, -1.5, -1, -0.5, 0], [0, 0.5, 1, 1.5, 2]);
const pathA = d3.line().x(d => pA.x(d[0])).y(d => pA.y(d[1])).curve(d3.curveCatmullRom.alpha(0.5));
const plotA = pA.g.append("g").attr("clip-path", pA.clip);
[trajCompact, trajAggressive, trajLayered].forEach(function (traj, i) {
    plotA.append("path").datum(traj).attr("d", pathA)
        .attr("fill", "none").attr("stroke", colors[i]).attr("stroke-width", 8.5)
        .attr("stroke-linejoin", "round");
});
plotA.append("circle").attr("cx", pA.x(target[0])).attr("cy", pA.y(target[1]))
    .attr("r", pA.x(0.05) - pA.x(0)).attr("fill", "none")
    .attr("stroke", crimson).attr("stroke-opacity", 0.5).attr("stroke-width", 3.5)
    .attr("stroke-dasharray", "11,7");
plotA.append("path").attr("d", d3.symbol(d3.symbolStar, 320)())
    .attr("transform", "translate(" + pA.x(target[0]) + "," + pA.y(target[1]) + ")")
    .attr("fill", crimson);
pA.g.append("text").attr("font-family", FONT).attr("font-size", 37).attr("fill", crimson)
    .attr("x", pA.x(target[0] + 0.064)).attr("y", pA.y(target[1] + 0.075)).text("target");
pA.g.append("circle").attr("cx", pA.x(0)).attr("cy", pA.y(0)).attr("r", 16).attr("fill", "#000");
pA.g.append("text").attr("font-family", FONT).attr("font-size", 37)
    .attr("x", pA.x(0.075)).attr("y", pA.y(-0.13)).text("start");
drawAxes(pA, [-3, -2.5, -2, -1.5, -1, -0.5, 0], [0, 0.5, 1, 1.5, 2], fmt1, fmt1);
xLabel(pA, [["x [m]"]]);
yLabel(pA, [["y [m]"]], 130);
title(pA, "A. No-wind XY trajectories", 72);

// ---------- B. Wind late-stage XY cloud ----------
const ticksB = [-0.15, -0.1, -0.05, 0, 0.05, 0.1, 0.15];
const pB = makePanel("b", {l: 2397, r: 3523, t: 147, b: 1272}, [-0.18, 0.18], [-0.18, 0.18]);
drawGrid(pB, ticksB, ticksB);
const plotB = pB.g.append("g").attr("clip-path", pB.clip);

function drawCloud(pts, color, r, fillOp, strokeOp) {
    plotB.append("g").selectAll("circle").data(pts).enter().append("circle")
        .attr("cx", d => pB.x(d[0])).attr("cy", d => pB.y(d[1])).attr("r", r)
        .attr("fill", color).attr("fill-opacity", fillOp)
        .attr("stroke", color).attr("stroke-opacity", strokeOp).attr("stroke-width", 1.6);
}
const cloudLayeredCore = [];
cloudLayeredCoreRows.forEach(function (row) {
    row[1].forEach(function (dx) { cloudLayeredCore.push([dx, row[0]]); });
});
drawCloud(cloudCompact.concat(cloudCompactInner), colors[0], 5.5, 0.2, 0.42);
drawCloud(cloudAggressive.concat(cloudAggressiveHalo), colors[1], 5.5, 0.27, 0.5);
drawCloud(cloudLayeredTrail, colors[2], 5.5, 0.18, 0.4);
drawCloud(cloudLayeredFringe, colors[2], 8, 0.4, 0.5);
drawCloud(cloudLayeredCore, colors[2], 12, 0.62, 0);
plotB.append("circle").attr("cx", pB.x(0)).attr("cy", pB.y(0))
    .attr("r", pB.x(0.05) - pB.x(0)).attr("fill", "none")
    .attr("stroke", "#777").attr("stroke-opacity", 0.7).attr("stroke-width", 3)
    .attr("stroke-dasharray", "12,8");
plotB.append("path").attr("d", d3.symbol(d3.symbolStar, 300)())
    .attr("transform", "translate(" + pB.x(0) + "," + pB.y(0) + ")")
    .attr("fill", crimson);
drawAxes(pB, ticksB, ticksB, fmt2, fmt2);
xLabel(pB, [["x", true], [" \u2212 "], ["x", true], ["t", true, true], [" [m]"]]);
yLabel(pB, [["y", true], [" \u2212 "], ["y", true], ["t", true, true], [" [m]"]], 197);
title(pB, "B. Wind late-stage XY cloud", 72);

// ---------- C / D time histories ----------
function timePanel(id, box, yDomain, yTicks, series) {
    const p = makePanel(id, box, [0, 20], yDomain);
    p.g.append("rect").attr("x", p.x(lateStageStart)).attr("y", box.t)
        .attr("width", p.x(20) - p.x(lateStageStart)).attr("height", box.b - box.t)
        .attr("fill", "#f4f4f4");
    drawGrid(p, timeTicks, yTicks);
    p.g.append("line").attr("x1", p.x(lateStageStart)).attr("x2", p.x(lateStageStart))
        .attr("y1", box.t).attr("y2", box.b)
        .attr("stroke", "#000").attr("stroke-opacity", 0.07).attr("stroke-width", 3);
    const line = d3.line().x(d => p.x(d[0])).y(d => p.y(d[1])).curve(d3.curveMonotoneX);
    const plot = p.g.append("g").attr("clip-path", p.clip);
    series.forEach(function (s, i) {
        plot.append("path").datum(s).attr("d", line)
            .attr("fill", "none").attr("stroke", colors[i]).attr("stroke-width", 8.5)
            .attr("stroke-linejoin", "round");
    });
    drawAxes(p, timeTicks, yTicks, fmt1, fmt1);
    xLabel(p, [["time [s]"]]);
    return p;
}

const pC = timePanel("c", {l: 203, r: 1870, t: 1502, b: 2628}, [-0.166, 3.5],
    [0, 0.5, 1, 1.5, 2, 2.5, 3, 3.5], [errCompact, errAggressive, errLayered]);
yLabel(pC, [["e", true], ["p", true, true], ["("], ["t", true], [")"], [" [m]"]], 130);
title(pC, "C. Wind position-error history", 1480);

const pD = timePanel("d", {l: 2128, r: 3793, t: 1502, b: 2628}, [-0.0715, 1.5],
    [0, 0.2, 0.4, 0.6, 0.8, 1.0, 1.2, 1.4], [speedCompact, speedAggressive, speedLayered]);
yLabel(pD, [["\u2016"], ["v", true], ["("], ["t", true], [")\u2016"], [" [m/s]"]], 130);
title(pD, "D. Wind speed-magnitude decay", 1480);

// ---------- legend ----------
const legend = svg.append("g").attr("font-family", FONT).attr("font-size", 41.7);
let cursor = 0;
seriesNames.forEach(function (name, i) {
    const item = legend.append("g");
    item.append("line").attr("x1", 0).attr("x2", 90).attr("y1", 0).attr("y2", 0)
        .attr("stroke", colors[i]).attr("stroke-width", 9);
    const t = item.append("text").attr("x", 118).attr("dy", "0.35em").text(name);
    const w = 118 + t.node().getComputedTextLength();
    item.attr("transform", "translate(" + cursor + ",0)");
    cursor += w + 80;
});
const legendWidth = cursor - 80;
legend.attr("transform", "translate(" + (1937 - legendWidth / 2) + ",84)");
</script>
</body>
</html>
